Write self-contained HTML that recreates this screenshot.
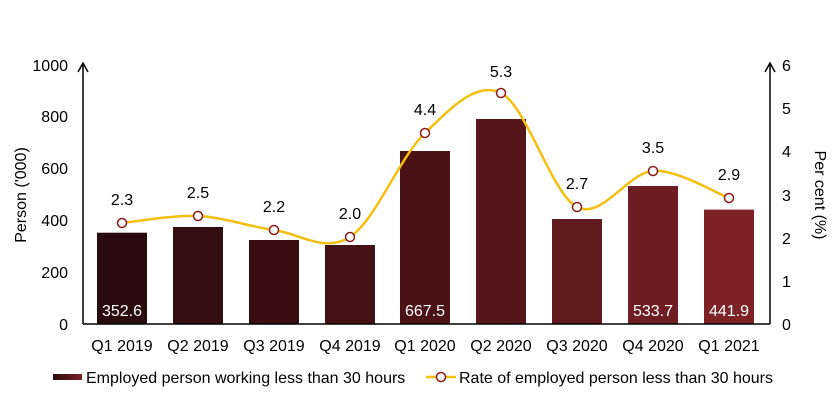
<!DOCTYPE html><html><head><meta charset="utf-8"><style>body{margin:0;background:#fff}</style></head><body>
<svg width="837" height="403" xmlns="http://www.w3.org/2000/svg" font-family="Liberation Sans, Arial, sans-serif" font-size="16">
<defs><linearGradient id="lg" x1="0" x2="1"><stop offset="0" stop-color="#2a0b0e"/><stop offset="1" stop-color="#7d2226"/></linearGradient></defs>
<g fill="#000" text-anchor="end">
<text x="68" y="330">0</text><text x="68" y="278">200</text><text x="68" y="226">400</text><text x="68" y="174">600</text><text x="68" y="122">800</text><text x="68" y="71">1000</text>
</g>
<g fill="#000" text-anchor="start">
<text x="782" y="330">0</text><text x="782" y="287">1</text><text x="782" y="244">2</text><text x="782" y="201">3</text><text x="782" y="157">4</text><text x="782" y="114">5</text><text x="782" y="71">6</text>
</g>
<text transform="translate(26,195) rotate(-90)" text-anchor="middle">Person ('000)</text>
<text transform="translate(815,195) rotate(90)" text-anchor="middle">Per cent (%)</text>
<g>
<rect x="97" y="232.7" width="50" height="91.3" fill="#2a0b0e"/>
<rect x="173" y="227" width="50" height="97" fill="#330d10"/>
<rect x="249" y="240" width="50" height="84" fill="#3b0f12"/>
<rect x="325" y="245" width="50" height="79" fill="#441114"/>
<rect x="400" y="151" width="50" height="173" fill="#4c1317"/>
<rect x="476" y="119" width="50" height="205" fill="#551519"/>
<rect x="552" y="219" width="50" height="105" fill="#611a1d"/>
<rect x="628" y="186" width="50" height="138" fill="#6e1e22"/>
<rect x="704" y="209.6" width="50" height="114.4" fill="#7d2226"/>
</g>
<g fill="#fff" text-anchor="middle">
<text x="122" y="316">352.6</text><text x="425" y="316">667.5</text><text x="653" y="316">533.7</text><text x="729" y="316">441.9</text>
</g>
<g stroke="#000" stroke-width="1.5" fill="none">
<path d="M83 324V65M78 72L83 63L88 72"/>
<path d="M770 324V65M765 72L770 63L775 72"/>
<path d="M83 324H770"/>
</g>
<path d="M122 223C134.7 221.8 172.7 214.8 198 216C223.3 217.2 248.7 226.5 274 230C299.3 233.5 324.8 253.2 350 237C375.2 220.8 399.8 157 425 133C450.2 109 475.7 80.7 501 93C526.3 105.3 551.7 194 577 207C602.3 220 627.7 172.5 653 171C678.3 169.5 716.3 193.5 729 198" fill="none" stroke="#f5bf0f" stroke-width="2.5"/>
<g fill="#fff" stroke="#8b1c1c" stroke-width="1.5">
<circle cx="122" cy="223" r="4.5"/><circle cx="198" cy="216" r="4.5"/><circle cx="274" cy="230" r="4.5"/><circle cx="350" cy="237" r="4.5"/><circle cx="425" cy="133" r="4.5"/><circle cx="501" cy="93" r="4.5"/><circle cx="577" cy="207" r="4.5"/><circle cx="653" cy="171" r="4.5"/><circle cx="729" cy="198" r="4.5"/>
</g>
<g fill="#000" text-anchor="middle">
<text x="122" y="205">2.3</text><text x="198" y="198">2.5</text><text x="274" y="212">2.2</text><text x="350" y="219">2.0</text><text x="425" y="115">4.4</text><text x="501" y="77">5.3</text><text x="577" y="189">2.7</text><text x="653" y="153">3.5</text><text x="729" y="180">2.9</text>
</g>
<g fill="#000" text-anchor="middle">
<text x="122" y="351">Q1 2019</text><text x="198" y="351">Q2 2019</text><text x="274" y="351">Q3 2019</text><text x="350" y="351">Q4 2019</text><text x="425" y="351">Q1 2020</text><text x="501" y="351">Q2 2020</text><text x="577" y="351">Q3 2020</text><text x="653" y="351">Q4 2020</text><text x="729" y="351">Q1 2021</text>
</g>
<rect x="53" y="374" width="29" height="6" fill="url(#lg)"/>
<text x="86" y="383">Employed person working less than 30 hours</text>
<path d="M426 377H456" stroke="#f5bf0f" stroke-width="2.5"/>
<circle cx="441" cy="377" r="4.5" fill="#fff" stroke="#8b1c1c" stroke-width="1.5"/>
<text x="459" y="383">Rate of employed person less than 30 hours</text>
</svg>
</body></html>
